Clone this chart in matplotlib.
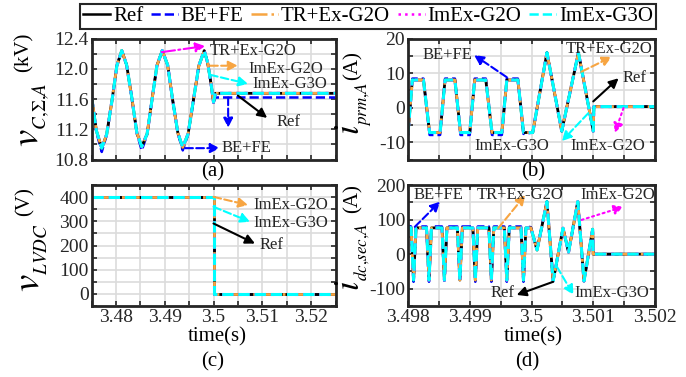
"""
Recreation of a 4-panel MMC converter comparison figure
(a) capacitor voltage sum, (b) primary current,
(c) LVDC voltage, (d) dc secondary current
"""

import matplotlib.pyplot as plt
from matplotlib.lines import Line2D
from matplotlib.ticker import FixedLocator, MultipleLocator, FixedFormatter

plt.rcParams['font.family'] = ['Liberation Serif', 'DejaVu Serif']
plt.rcParams['mathtext.fontset'] = 'stix'

W, H = 686, 377

# ---------------- data ----------------
# (a) v_C,Sigma,A in kV
t_a = [3.4750, 3.4760, 3.4771, 3.4781, 3.4792, 3.4802, 3.4812, 3.4822,
       3.4833, 3.4843, 3.4853, 3.4864, 3.4874, 3.4884, 3.4895, 3.4906,
       3.4916, 3.4927, 3.4937, 3.4948, 3.4959, 3.4970, 3.4981, 3.4988,
       3.4995, 3.5000, 3.5004, 3.5250]
v_ref_a = [11.64, 11.18, 10.95, 11.13, 11.58, 12.04, 12.24, 12.05,
           11.60, 11.15, 10.97, 11.14, 11.59, 12.04, 12.24, 12.05,
           11.60, 11.15, 10.96, 11.14, 11.59, 12.04, 12.24, 12.08,
           11.80, 11.56, 11.675, 11.675]
v_befe_a = [11.64, 11.16, 10.90, 11.12, 11.58, 12.04, 12.24, 12.05,
            11.60, 11.14, 10.92, 11.13, 11.59, 12.04, 12.24, 12.05,
            11.60, 11.14, 10.92, 11.13, 11.59, 12.04, 12.24, 12.08,
            11.80, 11.55, 11.62, 11.62]

# (b) i_prm,A in A
t_b = [3.49800, 3.49807, 3.49825, 3.49835, 3.49852, 3.49860, 3.49876,
       3.49885, 3.49900, 3.49908, 3.49926, 3.49936, 3.49952, 3.49960,
       3.49978, 3.49987, 3.50002, 3.50025, 3.50049, 3.50076, 3.50100,
       3.50101, 3.50200]
i_ref_b = [-7.6, 8.0, 8.0, -7.2, -7.2, 8.0, 8.0, -7.2, -7.2, 8.0, 8.0,
           -7.2, -7.2, 8.0, 8.0, -7.2, -7.2, 15.9, -6.8, 15.9, -6.8, 0.3, 0.3]
i_befe_b = [-8.0, 8.4, 8.4, -7.9, -7.9, 8.4, 8.4, -7.9, -7.9, 8.4, 8.4,
            -7.9, -7.9, 8.4, 8.4, -7.6, -7.2, 15.9, -6.8, 15.9, -6.8, 0.3, 0.3]

# (c) v_LVDC in V
t_c = [3.475, 3.500, 3.500, 3.525]
v_c = [400, 400, 0, 0]

# (d) i_dc,sec,A in A
t_d = [3.49800, 3.49805, 3.49809, 3.49813,
       3.49830, 3.49834, 3.49838,
       3.49855, 3.49859, 3.49863,
       3.49880, 3.49884, 3.49888,
       3.49905, 3.49909, 3.49913,
       3.49931, 3.49935, 3.49939,
       3.49956, 3.49960, 3.49964,
       3.49983, 3.49987, 3.49991,
       3.49999, 3.50009, 3.50025, 3.50035, 3.50051, 3.50060, 3.50075,
       3.50085, 3.50099, 3.50100, 3.50200]
i_ref_d = [78, 76, -75, 76,
           76, -75, 76,
           76, -75, 76,
           76, -75, 76,
           76, -75, 76,
           76, -75, 76,
           76, -75, 76,
           76, -75, 76,
           76, 12, 152, -78, 75, 6, 152, -78, 72, 0, 0]
i_befe_d = [82, 80, -80, 80,
            80, -80, 80,
            80, -80, 80,
            80, -80, 80,
            80, -80, 80,
            80, -80, 80,
            80, -80, 80,
            80, -80, 80,
            78, 12, 152, -78, 75, 6, 152, -78, 72, 0, 0]

# ticks
xt_ac = [3.48, 3.49, 3.50, 3.51, 3.52]
xt_bd = [3.498, 3.499, 3.500, 3.501, 3.502]
yt_a = [10.8, 11.2, 11.6, 12.0, 12.4]
yt_b = [-10, 0, 10, 20]
yt_c = [0, 100, 200, 300, 400]
yt_d = [-100, 0, 100, 200]

labels = ['Ref', 'BE+FE', 'TR+Ex-G2O', 'ImEx-G2O', 'ImEx-G3O']
colors = ['black', '#0000ff', '#f7a542', '#ff00ff', '#00ffff']
styles = ['-', '--', '-.', ':', '--']
widths = [2.0, 1.8, 2.0, 2.2, 2.2]

fig = plt.figure(figsize=(W / 100, H / 100), dpi=100)


def px_axes(l, t, r, b):
    return fig.add_axes([l / W, 1 - b / H, (r - l) / W, (b - t) / H])


def ftext(x, y, s, **kw):
    fig.text(x / W, 1 - y / H, s, **kw)


def draw(ax, t, ref, befe):
    # TR+Ex and ImEx curves lie on top of Ref; BE+FE goes underneath
    series = [ref, befe, ref, ref, ref]
    order = [1, 0, 2, 3, 4]
    for k in order:
        ax.plot(t, series[k], color=colors[k], ls=styles[k], lw=widths[k])


def style(ax, xlim, ylim, xt, yt, xminor, yminor, xfmt=None, yfmt=None):
    ax.set_xlim(xlim)
    ax.set_ylim(ylim)
    ax.xaxis.set_major_locator(FixedLocator(xt))
    ax.yaxis.set_major_locator(FixedLocator(yt))
    ax.xaxis.set_minor_locator(MultipleLocator(xminor))
    ax.yaxis.set_minor_locator(MultipleLocator(yminor))
    ax.xaxis.set_major_formatter(FixedFormatter(xfmt if xfmt else [''] * len(xt)))
    ax.yaxis.set_major_formatter(FixedFormatter(yfmt))
    ax.grid(which='both', color='#dcdcdc', lw=1.2)
    ax.set_axisbelow(True)
    ax.tick_params(which='both', direction='in', top=True, right=True,
                   length=3.5, width=1.2, color='#262626', labelsize=14,
                   labelcolor='#262626', pad=2)
    for s in ax.spines.values():
        s.set_linewidth(2)
        s.set_color('#262626')


def note(ax, text, tail, head, pos, color, ls, ha='left'):
    ax.annotate('', xy=head, xytext=tail,
                arrowprops=dict(arrowstyle='-|>', color=color, lw=1.5, ls=ls,
                                mutation_scale=14, shrinkA=0, shrinkB=0))
    if text:
        ax.text(pos[0], pos[1], text, fontsize=12, ha=ha, va='center',
                color='#262626')


ax_a = px_axes(91.5, 38.5, 335.5, 159.5)
ax_b = px_axes(408, 38.5, 655, 159.5)
ax_c = px_axes(91.5, 185, 335.5, 306)
ax_d = px_axes(408, 185, 655, 306)

draw(ax_a, t_a, v_ref_a, v_befe_a)
draw(ax_b, t_b, i_ref_b, i_befe_b)
draw(ax_c, t_c, v_c, v_c)
draw(ax_d, t_d, i_ref_d, i_befe_d)

style(ax_a, (3.475, 3.525), (10.8, 12.4), xt_ac, yt_a, 0.005, 0.2,
      yfmt=['%.1f' % v for v in yt_a])
style(ax_b, (3.498, 3.502), (-15, 20), xt_bd, yt_b, 0.0005, 5,
      yfmt=['%g' % v for v in yt_b])
style(ax_c, (3.475, 3.525), (-50, 450), xt_ac, yt_c, 0.005, 50,
      xfmt=['%g' % v for v in xt_ac], yfmt=['%g' % v for v in yt_c])
style(ax_d, (3.498, 3.502), (-150, 200), xt_bd, yt_d, 0.0005, 50,
      xfmt=['%g' % v for v in xt_bd], yfmt=['%g' % v for v in yt_d])

# ---------------- annotations ----------------
# (a)
note(ax_a, 'TR+Ex-G2O', (3.4894, 12.22), (3.4983, 12.30), (3.4993, 12.24), '#ff00ff', '-.')
note(ax_a, 'ImEx-G2O', (3.4993, 12.04), (3.5050, 12.04), (3.5071, 12.00), '#f7a542', '--')
note(ax_a, 'ImEx-G3O', (3.4993, 11.92), (3.5071, 11.80), (3.5079, 11.80), '#00ffff', '--')
note(ax_a, 'Ref', (3.5050, 11.645), (3.5110, 11.35), (3.5130, 11.29), 'black', '-')
note(ax_a, '', (3.5030, 11.62), (3.5030, 11.22), None, '#0000ff', '--')
note(ax_a, 'BE+FE', (3.4942, 10.95), (3.5013, 10.95), (3.5017, 10.95), '#0000ff', '--')

# (b)
note(ax_b, 'BE+FE', (3.49960, 8.8), (3.49907, 15.2), (3.49904, 15.2), '#0000ff', '--', 'right')
note(ax_b, 'TR+Ex-G2O', (3.50081, 10.4), (3.50130, 14.7), (3.50125, 17.1), '#f7a542', '--', 'center')
note(ax_b, 'Ref', (3.50100, 1.8), (3.50141, 8.5), (3.50147, 8.5), 'black', '-')
note(ax_b, 'ImEx-G2O', (3.50149, -0.1), (3.50135, -7.3), (3.50123, -11.2), '#ff00ff', ':', 'center')
note(ax_b, 'ImEx-G3O', (3.50092, -1.6), (3.50049, -9.7), (3.49968, -11.2), '#00ffff', '--', 'center')

# (c)
note(ax_c, 'ImEx-G2O', (3.5000, 401), (3.5071, 367), (3.5081, 367), '#f7a542', '--')
note(ax_c, 'ImEx-G3O', (3.5000, 360), (3.5075, 298), (3.5081, 291), '#00ffff', '--')
note(ax_c, 'Ref', (3.5000, 291), (3.5085, 208), (3.5095, 201), 'black', '-')

# (d)
note(ax_d, 'BE+FE', (3.49811, 79), (3.49852, 152), (3.49849, 171), '#0000ff', '--', 'center')
note(ax_d, 'TR+Ex-G2O', (3.49946, 75), (3.49990, 171), (3.49981, 171), '#f7a542', '--', 'center')
note(ax_d, 'ImEx-G2O', (3.50081, 99), (3.50149, 137), (3.50139, 171), '#ff00ff', ':', 'center')
note(ax_d, 'Ref', (3.50035, -80), (3.49976, -118), (3.49972, -113), 'black', '-', 'right')
note(ax_d, 'ImEx-G3O', (3.50041, -36), (3.50068, -118), (3.50070, -113), '#00ffff', '--')

# ---------------- axis labels ----------------
# y labels: big italic symbol with a small (second level) subscript, then the unit
ylab = dict(rotation=90, ha='center', va='center')
ftext(33, 115, r'$v_{{}_{C{,}\Sigma{,}A}}$', fontsize=28, **ylab)
ftext(24, 52, '(kV)', fontsize=15, **ylab)

ftext(354, 108, r'$i_{{}_{prm{,}A}}$', fontsize=25, **ylab)
ftext(353, 66, '(A)', fontsize=15, **ylab)

ftext(31, 258, r'$v_{{}_{LVDC}}$', fontsize=28, **ylab)
ftext(25, 202, '(V)', fontsize=15, **ylab)

ftext(353, 257, r'$i_{{}_{dc{,}sec{,}A}}$', fontsize=25, **ylab)
ftext(353, 199, '(A)', fontsize=15, **ylab)

ftext(217, 337, 'time(s)', fontsize=15, ha='center', va='center')
ftext(533, 337, 'time(s)', fontsize=15, ha='center', va='center')

for x, y, s in [(213, 172, '(a)'), (533, 172, '(b)'), (213, 362, '(c)'), (527, 362, '(d)')]:
    ftext(x, y, s, fontsize=15, ha='center', va='center')

# ---------------- legend ----------------
handles = [Line2D([], [], color=c, ls=ls, lw=1.8) for c, ls in zip(colors, styles)]
leg = fig.legend(handles, labels, loc='center', bbox_to_anchor=(368 / W, 1 - 16.5 / H),
                 ncol=5, fontsize=15, frameon=True, fancybox=False, framealpha=1,
                 edgecolor='#262626', handlelength=1.3, handletextpad=0.15,
                 columnspacing=0.35, borderpad=0.15, borderaxespad=0)
leg.get_frame().set_linewidth(1.5)

fig.savefig('out.png', dpi=100)
